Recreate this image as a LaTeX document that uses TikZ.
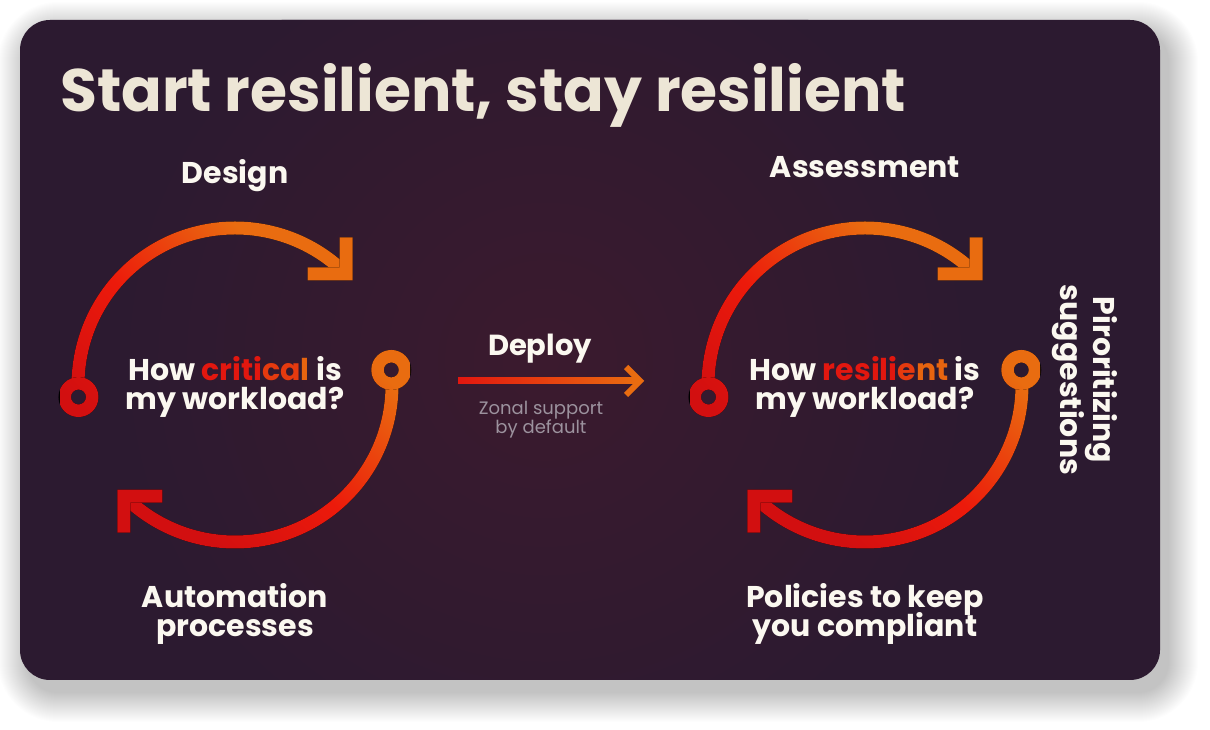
\documentclass[tikz,border=0pt]{standalone}
\usepackage{fontspec}
\setmainfont{Poppins}
\usetikzlibrary{positioning,calc}

\definecolor{cardbg}{HTML}{2C1A30}
\definecolor{glow}{HTML}{3B1A2E}
\definecolor{cream}{HTML}{EDE6D6}
\definecolor{txt}{HTML}{FBF8F0}
\definecolor{greytxt}{HTML}{9C929E}
\definecolor{dred}{HTML}{D20F10}
\definecolor{bred}{HTML}{EC1A0B}
\definecolor{orng}{HTML}{E96C10}
\definecolor{qa}{HTML}{E2170F}
\definecolor{qb}{HTML}{E53A0F}
\definecolor{qc}{HTML}{E7640F}

\pgfdeclarehorizontalshading{flowshade}{100bp}{color(0bp)=(dred); color(32bp)=(dred); color(48bp)=(bred); color(66bp)=(orng); color(100bp)=(orng)}

\tikzset{
  title/.style={text=cream, font=\bfseries\fontsize{60}{68}\selectfont, inner sep=0},
  stagetext/.style={text=txt, font=\bfseries\fontsize{30}{29}\selectfont, align=center, inner sep=0},
  note/.style={text=greytxt, font=\fontsize{18}{18.5}\selectfont, align=center, inner sep=0},
  flow/.style={path picture={\shade[shading=flowshade, shading angle=45] ($(#1)+(-175,-175)$) rectangle ($(#1)+(175,175)$);}}
}

\begin{document}
\begin{tikzpicture}[x=1pt,y=1pt]
	\useasboundingbox (0,0) rectangle (1210,730);
	\fill[white] (0,0) rectangle (1210,730);
	% soft shadow under the card
	\foreach \i [evaluate=\i as \r using 30+\i] in {1,...,30}
		\fill[black, opacity=0.008, rounded corners=\r pt] (28-\i,38-\i) rectangle (1168+\i,698+\i);
	\fill[cardbg, rounded corners=30pt] (20,50) rectangle (1160,710);
	\begin{scope}
		\clip[rounded corners=30pt] (20,50) rectangle (1160,710);
		\shade[inner color=glow, outer color=cardbg] (545,370) circle (430);
	\end{scope}

	\node[title, anchor=base west] (title) at (60,618) {Start resilient, stay resilient};

	\coordinate (lc) at (235,345);
	\coordinate (rc) at (865,345);

	% the two cycles
	\foreach \c in {lc,rc}{
		\fill[flow=\c] ($(\c)+(180:150.5)$) arc[start angle=180, end angle=45, radius=150.5]
			-- ($(\c)+(45:163.5)$) arc[start angle=45, end angle=180, radius=163.5] -- cycle;
		\fill[flow=\c] ($(\c)+(1:150.5)$) arc[start angle=1, end angle=-135, radius=150.5]
			-- ($(\c)+(-135:163.5)$) arc[start angle=-135, end angle=1, radius=163.5] -- cycle;
		\fill[flow=\c] ($(\c)+(45:157)+(6.5,-6.5)$) -- ++(-45,0) -- ++(0,13) -- ++(32,0) -- ++(0,30) -- ++(13,0) -- cycle;
		\fill[flow=\c] ($(\c)+(225:157)+(-6.5,6.5)$) -- ++(45,0) -- ++(0,-13) -- ++(-32,0) -- ++(0,-30) -- ++(-13,0) -- cycle;
		\fill[flow=\c, even odd rule] ($(\c)+(184.4:157)$) circle (20) circle (7.5);
		\fill[flow=\c, even odd rule] ($(\c)+(5.5:157)$) circle (20) circle (7.5);
	}

	\node[stagetext] (q1) at ($(lc)+(0,-2)$) {How \textcolor{qa}{criti}\textcolor{qb}{ca}\textcolor{qc}{l} is\\my workload?};
	\node[stagetext] (q2) at ($(rc)+(0,-2)$) {How \textcolor{qa}{resili}\textcolor{qb}{e}\textcolor{qc}{nt} is\\my workload?};

	\node[stagetext, anchor=base] (design) at (235,546) {Design};
	\node[stagetext, anchor=north] (auto) at (235,147) {Automation\\processes};
	\node[stagetext, anchor=base] (assess) at (865,552) {Assessment};
	\node[stagetext, anchor=north] (policy) at (865,147) {Policies to keep\\[-4pt]you compliant};
	\node[stagetext, rotate=-90] (prio) at (1085,350) {Piroritizing\\suggestions};

	% deploy arrow
	\node[stagetext, font=\bfseries\fontsize{29}{30}\selectfont, anchor=base] (deploy) at (540,374) {Deploy};
	\coordinate (dep-s) at (458,349);
	\coordinate (dep-e) at (640,349);
	\shade[left color=qa, middle color=bred, right color=orng] ($(dep-s)+(0,-3)$) rectangle ($(dep-e)+(-3,3)$);
	\draw[orng, line width=6pt] ($(dep-e)+(-14,14)$) -- (dep-e) -- ($(dep-e)+(-14,-14)$);
	\node[note, anchor=north] (zonal) at (541,329) {Zonal support\\by default};
\end{tikzpicture}
\end{document}
